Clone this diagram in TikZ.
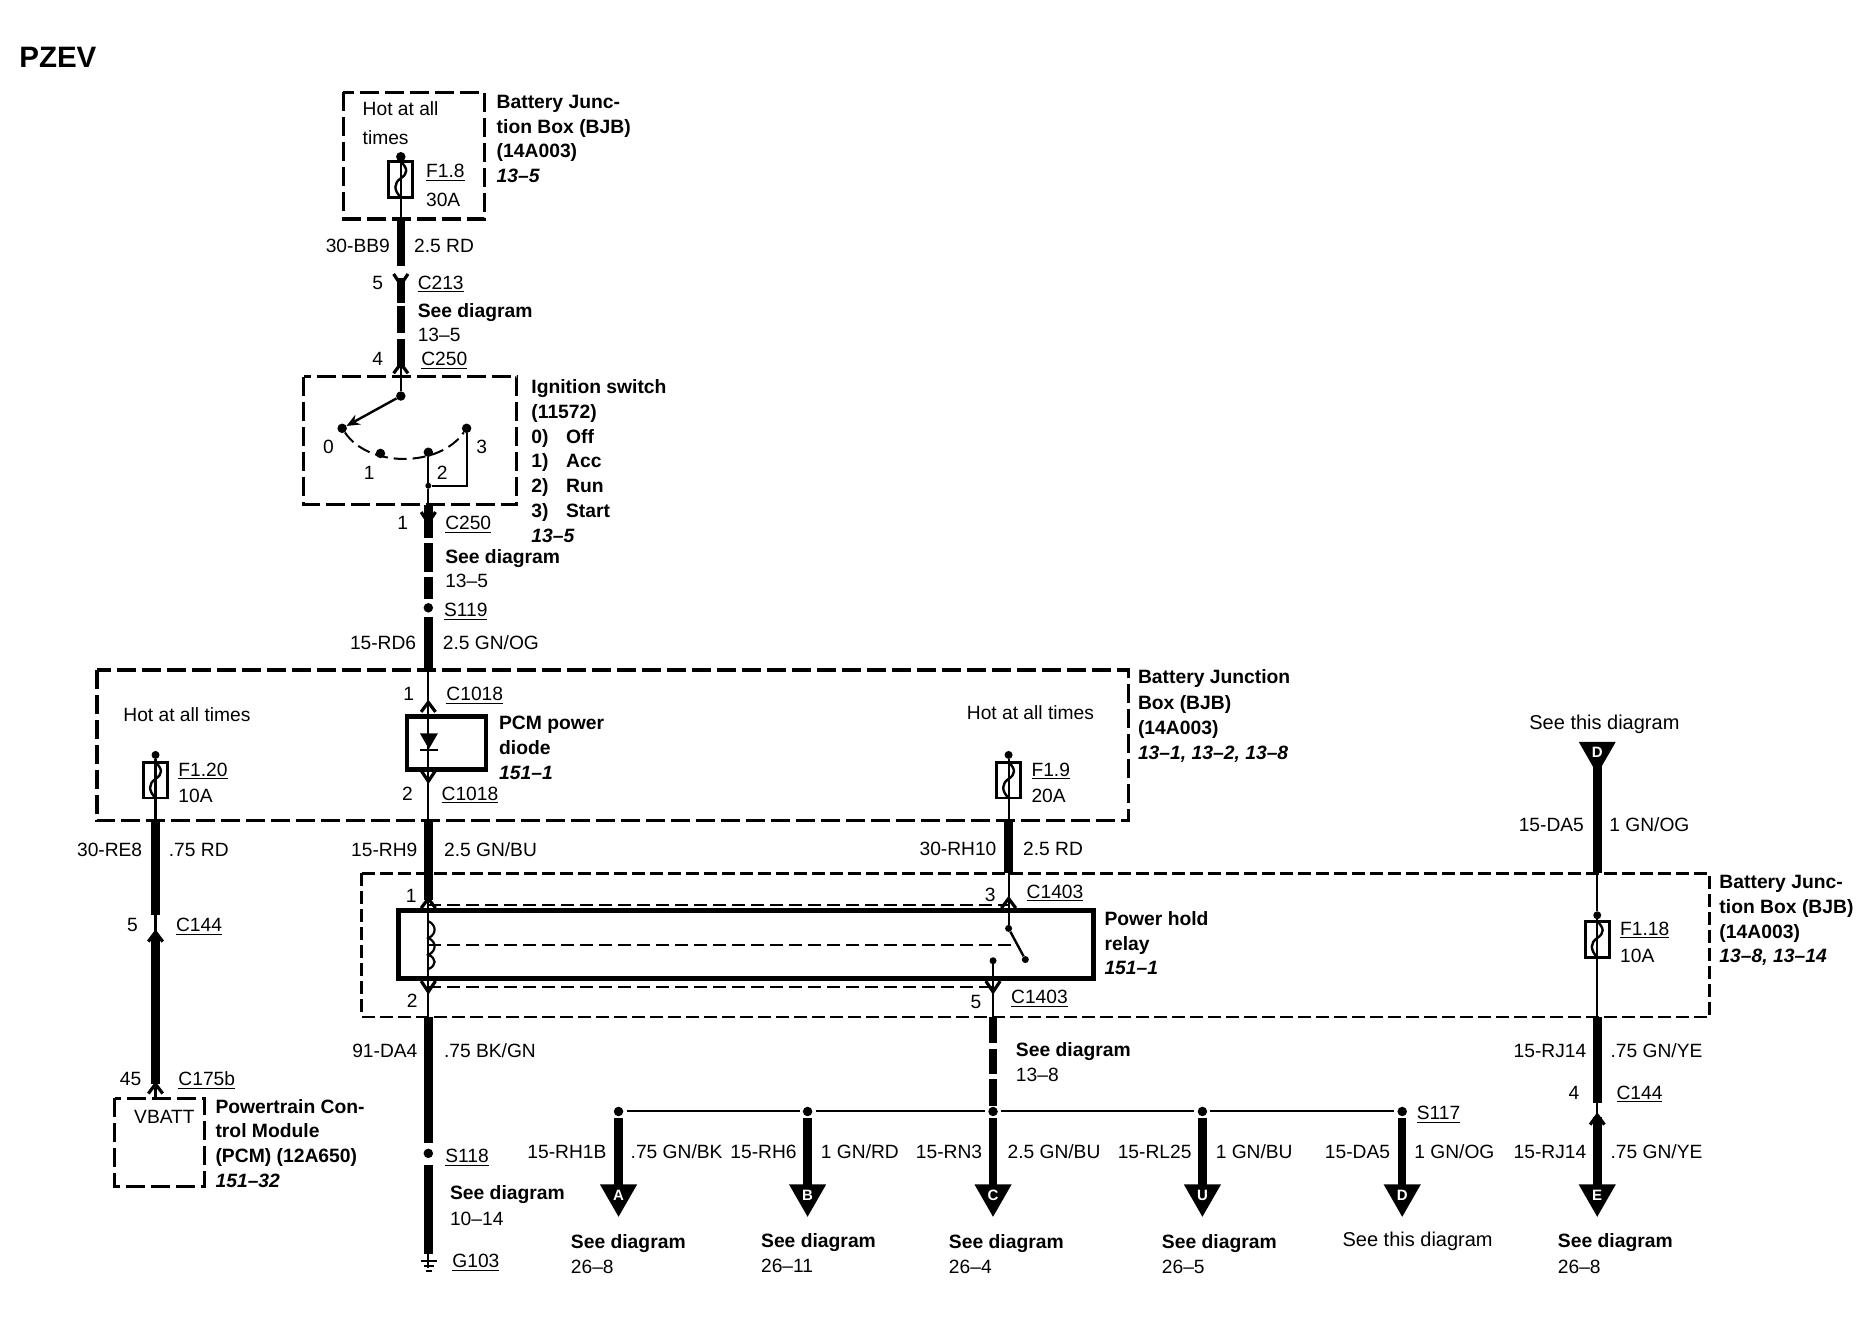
\documentclass[tikz,border=0pt]{standalone}
\usepackage{fontspec}
\setmainfont{Liberation Sans}
\usetikzlibrary{arrows.meta}
\tikzset{
  x=1.19643pt,y=-1.19643pt,
  tx/.style={anchor=base west,inner sep=0pt,yshift=-8pt,font=\fontsize{19.2}{25}\selectfont},
  txr/.style={anchor=base east,inner sep=0pt,yshift=-8pt,font=\fontsize{19.2}{25}\selectfont},
  bx/.style={anchor=base west,inner sep=0pt,yshift=-8pt,font=\fontsize{19.3}{25}\selectfont\bfseries},
  bi/.style={anchor=base west,inner sep=0pt,yshift=-8pt,font=\fontsize{19.3}{25}\selectfont\bfseries\itshape},
  dbox/.style={draw,line width=3.2pt,dash pattern=on 19pt off 6pt},
  dboxs/.style={draw,line width=2.8pt,dash pattern=on 13pt off 5pt},
  sbox/.style={draw,line width=4.4pt},
  wt/.style={line width=8.5pt},
  wn/.style={line width=2.2pt},
  busw/.style={line width=2pt,shorten >=3pt,shorten <=3pt},
  dsh/.style={line width=2pt,dash pattern=on 13pt off 6pt},
  dot/.style={circle,fill=black,inner sep=0pt,minimum size=9.5pt},
  pics/chevd/.style={code={\draw[line width=3.2pt] (-6,-9) -- (0,0) -- (6,-9);}},
  pics/chevu/.style={code={\draw[line width=3.2pt] (-6,8) -- (0,0) -- (6,8);}},
  pics/fuse/.style={code={
    \draw[line width=2.8pt] (-10,0) rectangle (10,30);
    \draw[line width=2.4pt] (0,0) .. controls (6,6) and (6,10) .. (0,14) .. controls (-6,18) and (-6,24) .. (0,30);
  }},
  pics/tri/.style={code={
    \fill (-15.5,0) -- (15.5,0) -- (0,27) -- cycle;
    \node[inner sep=0pt,text=white,font=\fontsize{15}{15}\selectfont\bfseries] at (0,9) {#1};
  }},
}
\newcommand{\ul}[1]{\underline{\smash{#1}\vphantom{\rule[-1pt]{0pt}{1pt}}}}
\begin{document}
\begin{tikzpicture}
\useasboundingbox (0,0) rectangle (1568,1110);
\node[bx,font=\fontsize{29.5}{30}\selectfont\bfseries] (title) at (16,50) {PZEV};

%% ---------- boxes
\draw[dbox] (287,77) rectangle (405,183);
\draw[dbox] (254,315) rectangle (432,422);
\draw[dbox] (81,560) rectangle (943,686);
\draw[dboxs] (302,730) rectangle (1429,850);
\draw[dbox] (96,918) rectangle (171,992);
\draw[sbox] (340,599) rectangle (406,643);
\draw[sbox] (333,761) rectangle (914,818);

%% ---------- top wire x=335
\node[dot] (a1) at (335,131) {};
\coordinate (a2) at (335,183);
\coordinate (a3) at (335,222);
\coordinate (a4) at (335,232);
\coordinate (a5) at (335,253);
\coordinate (a6) at (335,256);
\coordinate (a7) at (335,278);
\coordinate (a8) at (335,283);
\coordinate (a9) at (335,306);
\node[dot] (a10) at (335,331) {};
\pic at (335,135) {fuse};
\draw[wn] (a1) -- (a2);
\draw[wt] (a2) -- (a3);
\draw[wt] (a4) -- (a5);
\draw[wt] (a6) -- (a7);
\draw[wt] (a8) -- (a9);
\draw[wn] (a9) -- (a10);
\pic at (335,238) {chevd};
\pic at (335,304) {chevu};

%% ---------- ignition switch
\node[dot] (p0) at (286,358) {};
\node[dot] (p1) at (318,379) {};
\node[dot] (p2) at (358,378) {};
\node[dot] (p3) at (390,358) {};
\node[dot,minimum size=6pt] (p4) at (358,406) {};
\coordinate (p5) at (390,406);
\draw[line width=2.4pt,-{Stealth[length=13pt,width=11pt]}] (a10) -- (p0);
\draw[dsh] (p0) .. controls (308,391) and (367,391) .. (p3);
\draw[line width=2.2pt] (p3) -- (p5) -- (p4);
\draw[wn] (p2) -- (p4);

%% ---------- centre wire x=358
\coordinate (b1) at (358,422);
\coordinate (b2) at (358,450);
\coordinate (b3) at (358,454);
\coordinate (b4) at (358,478);
\coordinate (b5) at (358,482);
\coordinate (b6) at (358,501);
\node[dot] (s119) at (358,508) {};
\coordinate (b7) at (358,516);
\coordinate (b8) at (358,560);
\coordinate (b9) at (358,686);
\coordinate (b10) at (358,752);
\coordinate (b11) at (358,850);
\coordinate (b12) at (358,955);
\node[dot] (s118) at (358,964) {};
\coordinate (b13) at (358,974);
\coordinate (b14) at (358,1048);
\coordinate (b15) at (358,1060);
\draw[wn] (p4) -- (b1);
\draw[wt] (b1) -- (b2);
\draw[wt] (b3) -- (b4);
\draw[wt] (b5) -- (b6);
\draw[wt] (b7) -- (b8);
\draw[wn] (b8) -- (b9);
\draw[wt] (b9) -- (b10);
\draw[wn] (b10) -- (b11);
\draw[wt] (b11) -- (b12);
\draw[wt] (b13) -- (b14);
\draw[wn] (b14) -- (b15);
\pic at (358,437) {chevd};
\pic at (358,587) {chevu};
\pic at (358,653) {chevd};
\pic at (358,751) {chevu};
\pic at (358,829) {chevd};
% diode
\fill (351,613) -- (366,613) -- (358.5,626) -- cycle;
\draw[line width=2.4pt] (351,627) -- (366,627);
% ground
\draw[line width=2.2pt] (352,1054) -- (365,1054);
\draw[line width=2.2pt] (354,1058) -- (363,1058);
\draw[line width=2.2pt] (356,1062) -- (361,1062);
% coil
\draw[line width=2.2pt] (358,770) .. controls (365,773) and (365,781) .. (358,784)
   .. controls (365,787) and (365,795) .. (358,798) .. controls (365,801) and (365,807) .. (358,810);

%% ---------- F1.20 wire x=130
\node[dot,minimum size=8pt] (c1) at (130,631) {};
\coordinate (c2) at (130,686);
\coordinate (c3) at (130,765);
\coordinate (c4) at (130,782);
\coordinate (c5) at (130,906);
\coordinate (c6) at (130,918);
\pic at (130,637) {fuse};
\draw[wn] (c1) -- (c2);
\draw[wt] (c2) -- (c3);
\draw[wn] (c3) -- (c4);
\draw[wt] (c4) -- (c5);
\draw[wn] (c5) -- (c6);
\pic at (130,779) {chevu};
\pic at (130,906) {chevu};

%% ---------- F1.9 wire x=843
\node[dot,minimum size=8pt] (e1) at (843,631) {};
\coordinate (e2) at (843,686);
\coordinate (e3) at (843,730);
\node[dot,minimum size=7pt] (e4) at (843,776) {};
\node[dot,minimum size=7pt] (e5) at (857,802) {};
\pic at (843,637) {fuse};
\draw[wn] (e1) -- (e2);
\draw[wt] (e2) -- (e3);
\draw[wn] (e3) -- (e4);
\draw[line width=2.4pt] (e4) -- (e5);
\pic at (843,751) {chevu};

%% ---------- relay dashes
\coordinate (r1) at (358,756);
\coordinate (r2) at (843,756);
\coordinate (r3) at (358,825);
\coordinate (r4) at (830,825);
\coordinate (r5) at (358,790);
\coordinate (r6) at (850,790);
\draw[dsh] (r1) -- (r2);
\draw[dsh] (r3) -- (r4);
\draw[dsh] (r5) -- (r6);

%% ---------- relay output x=830
\node[dot,minimum size=7pt] (f1) at (830,803) {};
\coordinate (f2) at (830,850);
\coordinate (f3) at (830,872);
\coordinate (f4) at (830,877);
\coordinate (f5) at (830,898);
\coordinate (f6) at (830,902);
\coordinate (f7) at (830,924);
\draw[wn] (f1) -- (f2);
\draw[wt] (f2) -- (f3);
\draw[wt] (f4) -- (f5);
\draw[wt] (f6) -- (f7);
\pic at (830,829) {chevd};

%% ---------- bus
\node[dot] (g1) at (517,929) {};
\node[dot] (g2) at (675,929) {};
\node[dot] (g3) at (830,929) {};
\node[dot] (g4) at (1005,929) {};
\node[dot] (g5) at (1172,929) {};
\draw[busw] (g1) -- (g2);
\draw[busw] (g2) -- (g3);
\draw[busw] (g3) -- (g4);
\draw[busw] (g4) -- (g5);
\foreach \n/\px/\letter in {1/517/A,2/675/B,3/830/C,4/1005/U,5/1172/D}{
  \coordinate (h\n) at (\px,992);
  \draw[wt,shorten <=2pt] (g\n) -- (h\n);
  \pic at (\px,990) {tri=\letter};
}

%% ---------- right wire x=1335
\pic (td) at (1335,620) {tri=D};
\coordinate (k1) at (1335,640);
\coordinate (k2) at (1335,730);
\node[dot,minimum size=8pt] (k3) at (1335,765) {};
\coordinate (k4) at (1335,850);
\coordinate (k5) at (1335,922);
\coordinate (k6) at (1335,934);
\coordinate (k7) at (1335,992);
\pic at (1335,770) {fuse};
\draw[wt] (k1) -- (k2);
\draw[wn] (k2) -- (k3);
\draw[wn] (k3) -- (k4);
\draw[wt] (k4) -- (k5);
\draw[wn] (k5) -- (k6);
\draw[wt] (k6) -- (k7);
\pic at (1335,932) {chevu};
\pic at (1335,990) {tri=E};

%% ---------- texts: top box
\node[tx] (t1) at (303,90) {Hot at all};
\node[tx] (t2) at (303,114) {times};
\node[tx] (t3) at (356,142) {\ul{F1.8}};
\node[tx] (t4) at (356,166) {30A};
\node[bx] (t5) at (415,84) {Battery Junc-};
\node[bx] (t6) at (415,105) {tion Box (BJB)};
\node[bx] (t7) at (415,125) {(14A003)};
\node[bi] (t8) at (415,146) {13–5};
\node[txr] (t9) at (326,204) {30-BB9};
\node[tx] (t10) at (346,204) {2.5 RD};
\node[tx] (t11) at (311,235) {5};
\node[tx] (t12) at (349,235) {\ul{C213}};
\node[bx] (t13) at (349,259) {See diagram};
\node[tx] (t14) at (349,279) {13–5};
\node[tx] (t15) at (311,299) {4};
\node[tx] (t16) at (352,299) {\ul{C250}};
%% ignition
\node[bx] (t17) at (444,322) {Ignition switch};
\node[bx] (t18) at (444,343) {(11572)};
\node[bx] (t19) at (444,364) {0)};
\node[bx] (t20) at (473,364) {Off};
\node[bx] (t21) at (444,384) {1)};
\node[bx] (t22) at (473,384) {Acc};
\node[bx] (t23) at (444,405) {2)};
\node[bx] (t24) at (473,405) {Run};
\node[bx] (t25) at (444,426) {3)};
\node[bx] (t26) at (473,426) {Start};
\node[bi] (t27) at (444,447) {13–5};
\node[tx] (t28) at (270,372) {0};
\node[tx] (t29) at (304,394) {1};
\node[tx] (t30) at (365,394) {2};
\node[tx] (t31) at (398,372) {3};
\node[tx] (t32) at (332,436) {1};
\node[tx] (t33) at (372,436) {\ul{C250}};
\node[bx] (t34) at (372,464) {See diagram};
\node[tx] (t35) at (372,484) {13–5};
\node[tx] (t36) at (371,509) {\ul{S119}};
\node[txr] (t37) at (348,536) {15-RD6};
\node[tx] (t38) at (370,536) {2.5 GN/OG};
%% middle box
\node[tx] (t39) at (103,596) {Hot at all times};
\node[tx] (t40) at (808,595) {Hot at all times};
\node[tx] (t41) at (149,642) {\ul{F1.20}};
\node[tx] (t42) at (149,664) {10A};
\node[tx] (t43) at (337,579) {1};
\node[tx] (t44) at (373,579) {\ul{C1018}};
\node[bx] (t45) at (417,603) {PCM power};
\node[bx] (t46) at (417,624) {diode};
\node[bi] (t47) at (417,645) {151–1};
\node[tx] (t48) at (336,662) {2};
\node[tx] (t49) at (369,662) {\ul{C1018}};
\node[tx] (t50) at (862,642) {\ul{F1.9}};
\node[tx] (t51) at (862,664) {20A};
\node[bx] (t52) at (951,565) {Battery Junction};
\node[bx] (t53) at (951,586) {Box (BJB)};
\node[bx] (t54) at (951,607) {(14A003)};
\node[bi] (t55) at (951,628) {13–1, 13–2, 13–8};
\node[txr] (t56) at (119,709) {30-RE8};
\node[tx] (t57) at (141,709) {.75 RD};
\node[txr] (t58) at (349,709) {15-RH9};
\node[tx] (t59) at (371,709) {2.5 GN/BU};
\node[txr] (t60) at (833,708) {30-RH10};
\node[tx] (t61) at (855,708) {2.5 RD};
%% PCM
\node[tx] (t62) at (106,772) {5};
\node[tx] (t63) at (147,772) {\ul{C144}};
\node[tx] (t64) at (100,901) {45};
\node[tx] (t65) at (149,901) {\ul{C175b}};
\node[tx] (t66) at (112,932) {VBATT};
\node[bx] (t67) at (180,924) {Powertrain Con-};
\node[bx] (t68) at (180,944) {trol Module};
\node[bx] (t69) at (180,965) {(PCM) (12A650)};
\node[bi] (t70) at (180,986) {151–32};
%% relay
\node[tx] (t71) at (339,748) {1};
\node[tx] (t72) at (823,747) {3};
\node[tx] (t73) at (858,744) {\ul{C1403}};
\node[tx] (t74) at (340,835) {2};
\node[tx] (t75) at (811,836) {5};
\node[tx] (t76) at (845,832) {\ul{C1403}};
\node[bx] (t77) at (923,767) {Power hold};
\node[bx] (t78) at (923,788) {relay};
\node[bi] (t79) at (923,808) {151–1};
%% right
\node[anchor=base,inner sep=0pt,yshift=-8pt,font=\fontsize{20}{25}\selectfont] (t80) at (1341,603) {See this diagram};
\node[txr] (t81) at (1324,688) {15-DA5};
\node[tx] (t82) at (1345,688) {1 GN/OG};
\node[tx] (t83) at (1354,775) {\ul{F1.18}};
\node[tx] (t84) at (1354,798) {10A};
\node[bx] (t85) at (1437,736) {Battery Junc-};
\node[bx] (t86) at (1437,757) {tion Box (BJB)};
\node[bx] (t87) at (1437,778) {(14A003)};
\node[bi] (t88) at (1437,798) {13–8, 13–14};
\node[txr] (t89) at (1326,877) {15-RJ14};
\node[tx] (t90) at (1346,877) {.75 GN/YE};
\node[tx] (t91) at (1311,912) {4};
\node[tx] (t92) at (1351,912) {\ul{C144}};
\node[txr] (t93) at (1326,962) {15-RJ14};
\node[tx] (t94) at (1346,962) {.75 GN/YE};
\node[bx] (t95) at (1302,1036) {See diagram};
\node[tx] (t96) at (1302,1058) {26–8};
%% lower left
\node[txr] (t97) at (349,877) {91-DA4};
\node[tx] (t98) at (371,877) {.75 BK/GN};
\node[tx] (t99) at (372,965) {\ul{S118}};
\node[bx] (t100) at (376,996) {See diagram};
\node[tx] (t101) at (376,1018) {10–14};
\node[tx] (t102) at (378,1053) {\ul{G103}};
\node[bx] (t103) at (849,876) {See diagram};
\node[tx] (t104) at (849,897) {13–8};
\node[tx] (t105) at (1184,929) {\ul{S117}};
%% bus labels
\node[txr] (t106) at (507,962) {15-RH1B};
\node[tx] (t107) at (527,962) {.75 GN/BK};
\node[txr] (t108) at (666,962) {15-RH6};
\node[tx] (t109) at (686,962) {1 GN/RD};
\node[txr] (t110) at (821,962) {15-RN3};
\node[tx] (t111) at (842,962) {2.5 GN/BU};
\node[txr] (t112) at (996,962) {15-RL25};
\node[tx] (t113) at (1016,962) {1 GN/BU};
\node[txr] (t114) at (1162,962) {15-DA5};
\node[tx] (t115) at (1182,962) {1 GN/OG};
\node[bx] (t116) at (477,1037) {See diagram};
\node[tx] (t117) at (477,1058) {26–8};
\node[bx] (t118) at (636,1036) {See diagram};
\node[tx] (t119) at (636,1057) {26–11};
\node[bx] (t120) at (793,1037) {See diagram};
\node[tx] (t121) at (793,1058) {26–4};
\node[bx] (t122) at (971,1037) {See diagram};
\node[tx] (t123) at (971,1058) {26–5};
\node[tx,font=\fontsize{20}{25}\selectfont] (t124) at (1122,1035) {See this diagram};
\end{tikzpicture}
\end{document}
